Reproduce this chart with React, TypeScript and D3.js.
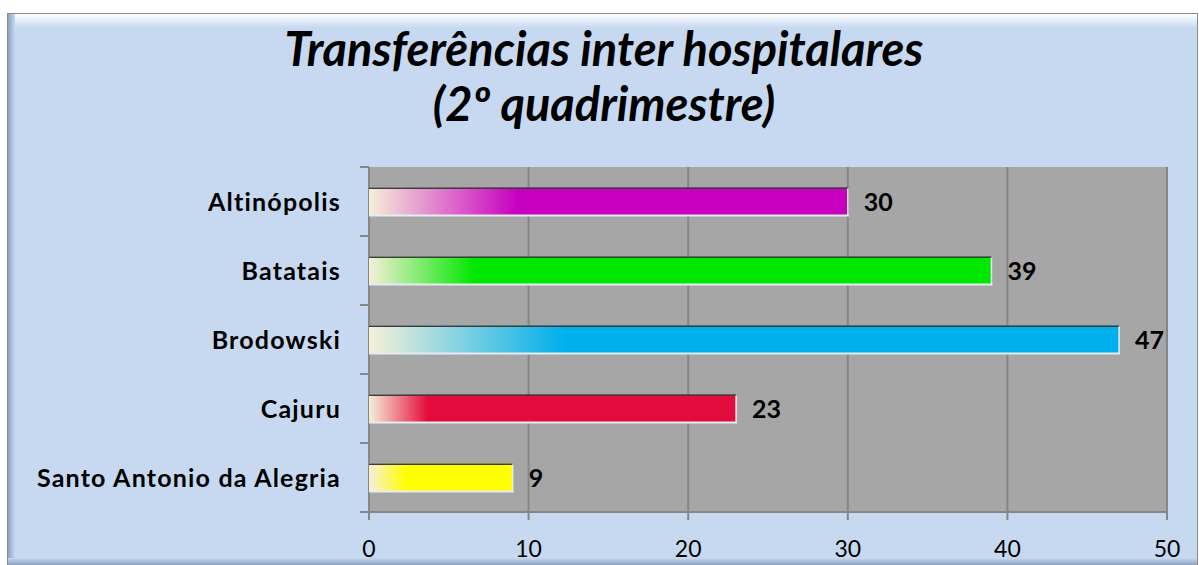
import React from "react";
import * as d3 from "d3";

const titleLines = ["Transferências inter hospitalares", "(2º quadrimestre)"];
const categories = ["Altinópolis", "Batatais", "Brodowski", "Cajuru", "Santo Antonio da Alegria"];
const values = [30, 39, 47, 23, 9];
const barColors = ["#c800c0", "#00e800", "#00b0ec", "#e40c3c", "#ffff00"];
const fadeStops = [0.31, 0.17, 0.26, 0.16, 0.26];
const xTicks = [0, 10, 20, 30, 40, 50];

const W = 1199;
const H = 565;
const plot = { left: 369, right: 1167, top: 167, bottom: 512 };
const FONT = "Lato, 'Open Sans', sans-serif";

export default function App() {
  const x = d3.scaleLinear().domain([0, 50]).range([plot.left, plot.right]);
  const y = d3
    .scaleBand<string>()
    .domain(categories)
    .range([plot.top, plot.bottom])
    .paddingInner(0.595)
    .paddingOuter(0.2975);
  const bandStep = (plot.bottom - plot.top) / categories.length;
  const boundaries = d3.range(categories.length + 1).map((i) => plot.top + i * bandStep);

  return (
    <svg width={W} height={H} style={{ position: "absolute", left: 0, top: 0 }}>
      <defs>
        <linearGradient id="topBevel" x1="0" y1="0" x2="0" y2="1">
          <stop offset="0" stopColor="#ffffff" />
          <stop offset="1" stopColor="#c6d9f1" />
        </linearGradient>
        <linearGradient id="leftBevel" x1="0" y1="0" x2="1" y2="0">
          <stop offset="0" stopColor="#8ea3bf" />
          <stop offset="1" stopColor="#c6d9f1" />
        </linearGradient>
        <linearGradient id="bottomBevel" x1="0" y1="0" x2="0" y2="1">
          <stop offset="0" stopColor="#c6d9f1" />
          <stop offset="1" stopColor="#8ea3bf" />
        </linearGradient>
        {categories.map((c, i) => (
          <linearGradient key={c} id={`bar${i}`} x1="0" y1="0" x2="1" y2="0">
            <stop offset="0" stopColor="#f6efd8" />
            <stop offset={fadeStops[i]} stopColor={barColors[i]} />
            <stop offset="1" stopColor={barColors[i]} />
          </linearGradient>
        ))}
      </defs>

      {/* outer frame */}
      <rect x={7.5} y={13.5} width={1190} height={552} fill="#c6d9f1" stroke="#8a8a8a" />
      <rect x={8} y={14} width={1189} height={14} fill="url(#topBevel)" />
      <rect x={8} y={14} width={7} height={551} fill="url(#leftBevel)" />
      <rect x={8} y={558} width={1189} height={7} fill="url(#bottomBevel)" />

      {/* title */}
      {titleLines.map((t, i) => (
        <text
          key={t}
          x={604}
          y={66 + i * 55}
          textAnchor="middle"
          fontFamily={FONT}
          fontStyle="italic"
          fontWeight="bold"
          fontSize={47}
          fill="#000"
        >
          {t}
        </text>
      ))}

      {/* plot area */}
      <rect
        x={plot.left}
        y={plot.top}
        width={plot.right - plot.left}
        height={plot.bottom - plot.top}
        fill="#a6a6a6"
      />
      {xTicks.map((t) => (
        <line
          key={`g${t}`}
          x1={x(t)}
          x2={x(t)}
          y1={plot.top}
          y2={plot.bottom + 8}
          stroke="#868686"
          strokeWidth={2}
        />
      ))}
      <line x1={plot.left} x2={plot.right} y1={plot.bottom} y2={plot.bottom} stroke="#868686" strokeWidth={2} />
      <line x1={plot.left} x2={plot.left} y1={plot.top} y2={plot.bottom + 8} stroke="#868686" strokeWidth={2} />
      {boundaries.map((b, i) => (
        <line key={`yt${i}`} x1={plot.left - 9} x2={plot.left} y1={b} y2={b} stroke="#868686" strokeWidth={2} />
      ))}

      {/* bars */}
      {categories.map((c, i) => {
        const y0 = y(c)!;
        const h = y.bandwidth();
        const x0 = x(0);
        const x1 = x(values[i]);
        return (
          <g key={c}>
            <rect x={x0} y={y0} width={x1 - x0} height={h} fill={`url(#bar${i})`} />
            <line x1={x0} x2={x1} y1={y0 + 0.75} y2={y0 + 0.75} stroke="#3c3c3c" strokeWidth={1.5} />
            <line x1={x0} x2={x1 + 1} y1={y0 + h} y2={y0 + h} stroke="#e6ebf4" strokeWidth={2} />
            <line x1={x1} x2={x1} y1={y0 + 1} y2={y0 + h} stroke="#e6ebf4" strokeWidth={1.5} />
            <text
              x={x1 + 16}
              y={y0 + h / 2}
              dy="0.36em"
              fontFamily={FONT}
              fontWeight="bold"
              fontSize={25}
              fill="#000"
            >
              {values[i]}
            </text>
            <text
              x={341}
              y={y0 + h / 2}
              dy="0.36em"
              textAnchor="end"
              fontFamily={FONT}
              fontWeight="bold"
              fontSize={25}
              letterSpacing={1.2}
              fill="#000"
            >
              {c}
            </text>
          </g>
        );
      })}

      {/* x tick labels */}
      {xTicks.map((t) => (
        <text
          key={`xl${t}`}
          x={x(t)}
          y={557}
          textAnchor="middle"
          fontFamily={FONT}
          fontSize={23}
          fill="#000"
        >
          {t}
        </text>
      ))}
    </svg>
  );
}
